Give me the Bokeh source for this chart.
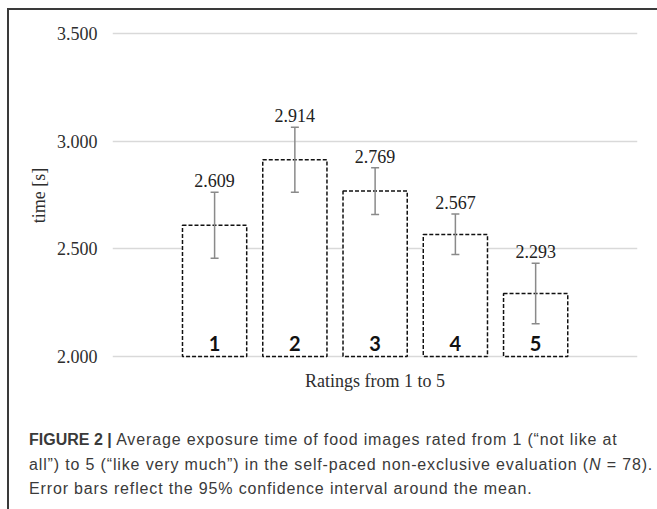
from bokeh.plotting import figure
from bokeh.models import (ColumnDataSource, Range1d, FixedTicker, NumeralTickFormatter, Div)
from bokeh.layouts import column
from bokeh.core.properties import value
from bokeh.embed import file_html
from bokeh.resources import INLINE

# ---- data ----
ratings = [1, 2, 3, 4, 5]
rating_labels = ["1", "2", "3", "4", "5"]
mean_time = [2.609, 2.914, 2.769, 2.567, 2.293]
ci_upper = [2.763, 3.065, 2.876, 2.662, 2.433]
ci_lower = [2.456, 2.763, 2.659, 2.474, 2.152]
y_ticks = [2.0, 2.5, 3.0, 3.5]
x_title = "Ratings from 1 to 5"
y_title = "time [s]"
cap_bold = "FIGURE 2 |"
cap_l1 = "Average exposure time of food images rated from 1 (\u201cnot like at"
cap_l2a = "all\u201d) to 5 (\u201clike very much\u201d) in the self-paced non-exclusive evaluation ("
cap_l2n = "N"
cap_l2b = " = 78)."
cap_l3 = "Error bars reflect the 95% confidence interval around the mean."

W, H = 648, 390
X0, X1 = -0.272, 6.269
Y0, Y1 = 1.9768, 3.5186
LEFT, RIGHT, TOP, BOTTOM = 103, 20, 19, 39

src = ColumnDataSource(dict(
    x=ratings, top=mean_time, upper=ci_upper, lower=ci_lower,
    lab=["%.3f" % v for v in mean_time], num=rating_labels,
    base=[y_ticks[0]] * len(ratings),
))

p = figure(width=W, height=H, output_backend="svg", toolbar_location=None,
           x_range=Range1d(X0, X1), y_range=Range1d(Y0, Y1),
           min_border_left=LEFT, min_border_right=RIGHT,
           min_border_top=TOP, min_border_bottom=BOTTOM)
p.outline_line_color = None
p.background_fill_color = "white"
p.border_fill_color = "white"

# grid
p.xgrid.visible = False
p.ygrid.ticker = FixedTicker(ticks=y_ticks)
p.ygrid.grid_line_color = "#d9d9d9"
p.ygrid.grid_line_width = 1.5

# y axis
p.yaxis.ticker = FixedTicker(ticks=y_ticks)
p.yaxis.formatter = NumeralTickFormatter(format="0.000")
p.yaxis.axis_line_color = None
p.yaxis.major_tick_line_color = None
p.yaxis.minor_tick_line_color = None
p.yaxis.major_label_standoff = 9
p.yaxis.major_label_text_font = "Liberation Serif"
p.yaxis.major_label_text_font_size = "18px"
p.yaxis.major_label_text_color = "#2e2e2e"
p.yaxis.axis_label = y_title
p.yaxis.axis_label_text_font = "Liberation Serif"
p.yaxis.axis_label_text_font_size = "18px"
p.yaxis.axis_label_text_font_style = "normal"
p.yaxis.axis_label_text_color = "#2e2e2e"
p.yaxis.axis_label_standoff = 5

# x axis
p.xaxis.ticker = FixedTicker(ticks=[])
p.xaxis.axis_line_color = None
p.xaxis.major_tick_line_color = None
p.xaxis.minor_tick_line_color = None
p.xaxis.major_tick_out = 0
p.xaxis.major_label_standoff = 0
p.xaxis.axis_label = x_title
p.xaxis.axis_label_text_font = "Liberation Serif"
p.xaxis.axis_label_text_font_size = "18px"
p.xaxis.axis_label_text_font_style = "normal"
p.xaxis.axis_label_text_color = "#2e2e2e"
p.xaxis.axis_label_standoff = 9

# bars
p.vbar(x="x", top="top", bottom="base", width=0.8, source=src,
       fill_color="white", line_color="#111111", line_width=1.5, line_dash="4 2")

# error bars
ecol = "#8a8a8a"
p.segment(x0="x", y0="lower", x1="x", y1="upper", source=src,
          line_color=ecol, line_width=1.5)
p.dash(x="x", y="upper", size=8, source=src, line_color=ecol, line_width=1.5)
p.dash(x="x", y="lower", size=8, source=src, line_color=ecol, line_width=1.5)

# value labels
p.text(x="x", y="upper", text="lab", source=src, text_align="center",
       text_baseline="bottom", y_offset=-5,
       text_font=value("Liberation Serif"), text_font_size="18px", text_color="#222222")

# rating numbers inside bars
p.text(x="x", y="base", text="num", source=src, text_align="center",
       text_baseline="bottom", y_offset=-6,
       text_font=value("Lato"), text_font_size="20px", text_font_style="bold",
       text_color="#111111")

cap_html = (
    '<div style="font-family: \'Liberation Sans\', Arial, sans-serif; font-size: 16px; '
    'color: #3a3a3a; line-height: 24.5px; letter-spacing: 0.85px; white-space: nowrap;">'
    '<span style="font-weight: bold; letter-spacing: 0px;">%s</span> %s<br>'
    '%s<i>%s</i>%s<br>%s</div>'
    % (cap_bold, cap_l1, cap_l2a, cap_l2n, cap_l2b, cap_l3)
)
cap = Div(text=cap_html, width=W, height=99,
          styles={"padding-left": "15px", "padding-top": "23px", "box-sizing": "border-box"})

layout = column(p, cap, spacing=0, margin=(8, 0, 0, 7),
                styles={"border-left": "2px solid #3a3a3a", "border-top": "2px solid #3a3a3a"})

open("out.html", "w").write(file_html(layout, INLINE))
